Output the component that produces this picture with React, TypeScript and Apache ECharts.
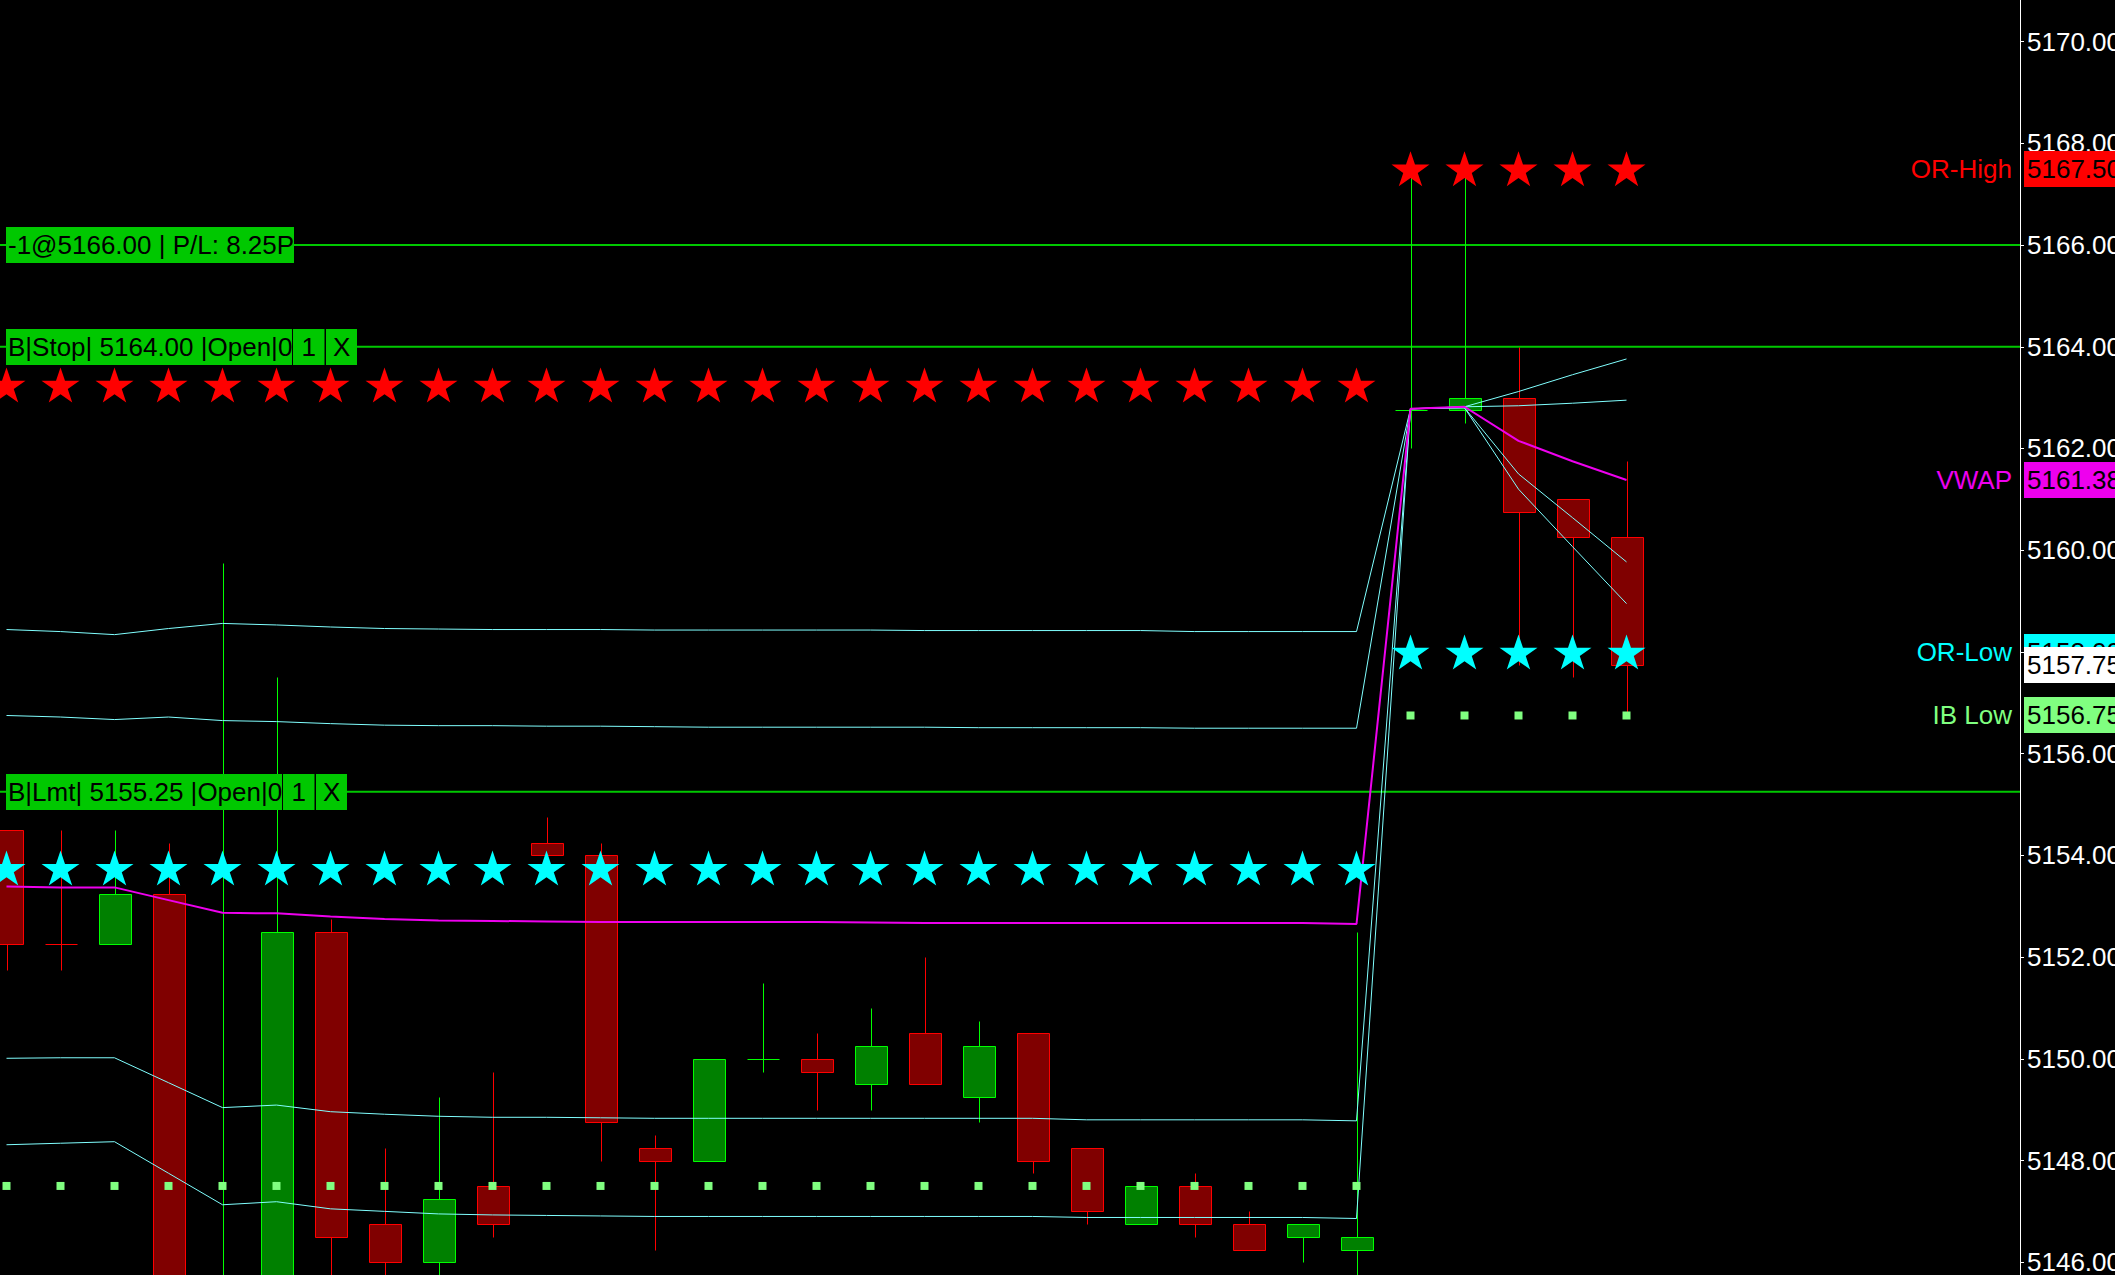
import React, { useEffect, useRef } from "react";
import * as echarts from "echarts";

// ---------- Bars (index 0 = leftmost visible bar) ----------
const opens = [
  5154.5, 5152.25, 5152.25, 5153.25, 5144.5, 5145.0, 5152.5, 5146.75, 5146.0, 5147.5,
  5154.25, 5154.0, 5148.25, 5148.0, 5150.0, 5150.0, 5149.5, 5150.5, 5149.25, 5150.5,
  5148.25, 5146.75, 5147.5, 5146.75, 5146.5, 5146.25, 5162.75, 5162.75, 5163.0, 5161.0,
  5160.25,
];
const closes = [
  5152.25, 5152.25, 5153.25, 5145.25, 5145.5, 5152.5, 5146.5, 5146.0, 5147.25, 5146.75,
  5154.0, 5148.75, 5148.0, 5150.0, 5150.0, 5149.75, 5150.25, 5149.5, 5150.25, 5148.0,
  5147.0, 5147.5, 5146.75, 5146.25, 5146.75, 5146.5, 5162.75, 5163.0, 5160.75, 5160.25,
  5157.75,
];
const lows = [
  5151.75, 5151.75, 5152.25, 5145.0, 5144.0, 5144.75, 5145.5, 5145.5, 5145.5, 5146.5,
  5154.0, 5148.0, 5146.25, 5148.0, 5149.75, 5149.0, 5149.0, 5149.5, 5148.75, 5147.75,
  5146.75, 5146.75, 5146.5, 5146.25, 5146.0, 5145.5, 5162.0, 5162.5, 5157.75, 5157.5,
  5156.75,
];
const highs = [
  5154.5, 5154.5, 5154.5, 5154.25, 5159.75, 5157.5, 5152.75, 5148.25, 5149.25, 5149.75,
  5154.75, 5154.25, 5148.5, 5150.0, 5151.5, 5150.5, 5151.0, 5152.0, 5150.75, 5150.5,
  5148.25, 5147.5, 5147.75, 5147.0, 5146.75, 5152.5, 5167.5, 5167.5, 5164.0, 5161.0,
  5161.75,
];
// doji bars (open == close) that are painted in the rising colour
const dojiRising = [14, 26];

// ---------- VWAP and its bands ----------
const vwap = [
  5153.39, 5153.37, 5153.37, 5153.12, 5152.87, 5152.86, 5152.8, 5152.75, 5152.72, 5152.71,
  5152.7, 5152.69, 5152.69, 5152.69, 5152.69, 5152.69, 5152.68, 5152.67, 5152.67, 5152.67,
  5152.67, 5152.67, 5152.67, 5152.67, 5152.67, 5152.65, 5162.78, 5162.82, 5162.15, 5161.75,
  5161.38,
];
const bandUpper2 = [
  5158.44, 5158.4, 5158.34, 5158.46, 5158.56, 5158.53, 5158.49, 5158.46, 5158.45, 5158.44,
  5158.44, 5158.44, 5158.43, 5158.43, 5158.43, 5158.43, 5158.43, 5158.42, 5158.42, 5158.42,
  5158.42, 5158.42, 5158.4, 5158.4, 5158.4, 5158.4, 5162.78, 5162.82, 5163.12, 5163.45,
  5163.76,
];
const bandUpper1 = [
  5156.75, 5156.72, 5156.67, 5156.72, 5156.65, 5156.63, 5156.59, 5156.56, 5156.55, 5156.55,
  5156.54, 5156.54, 5156.53, 5156.52, 5156.52, 5156.52, 5156.52, 5156.52, 5156.51, 5156.51,
  5156.51, 5156.51, 5156.5, 5156.5, 5156.5, 5156.5, 5162.78, 5162.82, 5162.84, 5162.89,
  5162.95,
];
const bandLower1 = [
  5150.01, 5150.02, 5150.02, 5149.53, 5149.04, 5149.09, 5148.96, 5148.91, 5148.87, 5148.85,
  5148.85, 5148.84, 5148.83, 5148.83, 5148.83, 5148.83, 5148.83, 5148.83, 5148.83, 5148.83,
  5148.8, 5148.8, 5148.8, 5148.8, 5148.8, 5148.78, 5162.78, 5162.8, 5161.5, 5160.64,
  5159.77,
];
const bandLower2 = [
  5148.31, 5148.34, 5148.37, 5147.75, 5147.13, 5147.19, 5147.05, 5147.0, 5146.95, 5146.93,
  5146.92, 5146.91, 5146.9, 5146.9, 5146.9, 5146.9, 5146.9, 5146.9, 5146.9, 5146.9,
  5146.88, 5146.88, 5146.88, 5146.88, 5146.88, 5146.86, 5162.78, 5162.8, 5161.2, 5160.07,
  5158.95,
];

// ---------- Session levels ----------
const sessionFirstBar = [0, 26];
const sessionLastBar = [25, 30];
const orHigh = [5163.25, 5167.5];
const orLow = [5153.75, 5158.0];
const ibLow = [5147.5, 5156.75];

// ---------- Position / working orders ----------
const orderPrices = [5166.0, 5164.0, 5155.25];
const orderTexts = ["-1@5166.00 | P/L: 8.25P", "B|Stop| 5164.00 |Open|0", "B|Lmt| 5155.25 |Open|0"];
const orderQty = ["", "1", "1"];
const orderCancel = ["", "X", "X"];

// ---------- Right-hand price markers ----------
const markerNames = ["OR-High", "VWAP", "OR-Low", "", "IB Low"];
const markerValues = [5167.5, 5161.38, 5158.0, 5157.75, 5156.75];
const markerColors = ["#ff0000", "#ee00ee", "#00ffff", "#ffffff", "#80ff80"];

// ---------- Axis ranges ----------
const xMin = -0.1204;
const xMax = 37.287;
const yMin = 5145.749;
const yMax = 5170.818;

const W = 2115;
const H = 1275;
const FONT = '"Liberation Sans", Arial, sans-serif';
const ORDER_GREEN = "#00c800";
const BAND = "#80ffff";
const STAR =
  "path://M50 0 L61.23 34.55 L97.55 34.55 L68.17 55.9 L79.39 90.45 L50 69.1 L20.61 90.45 L31.83 55.9 L2.45 34.55 L38.77 34.55 Z";

function levelPoints(levels: number[]) {
  const pts: number[][] = [];
  levels.forEach((lvl, s) => {
    for (let i = sessionFirstBar[s]; i <= sessionLastBar[s]; i++) pts.push([i, lvl]);
  });
  return pts;
}

function lineSeries(values: number[], color: string, width: number, z: number) {
  return {
    type: "line",
    data: values.map((v, i) => [i, v]),
    showSymbol: false,
    symbol: "none",
    lineStyle: { color, width, opacity: 1 },
    itemStyle: { color },
    z,
    silent: true,
  };
}

export default function App() {
  const ref = useRef<HTMLDivElement>(null);

  useEffect(() => {
    document.body.style.margin = "0";
    document.body.style.background = "#000";
    const chart = echarts.init(ref.current as HTMLDivElement, null, {
      renderer: "svg",
      width: W,
      height: H,
    });

    const candleData = opens.map((o, i) => [i, o, closes[i], lows[i], highs[i]]);

    const option: any = {
      animation: false,
      backgroundColor: "#000000",
      grid: { left: 0, right: 95, top: 0, bottom: 0, containLabel: false, outerBoundsMode: "none" },
      xAxis: { type: "value", min: xMin, max: xMax, show: false },
      yAxis: {
        type: "value",
        position: "right",
        min: yMin,
        max: yMax,
        splitNumber: 12,
        axisLine: { show: true, onZero: false, lineStyle: { color: "#ffffff", width: 1 } },
        axisTick: { show: true, length: 4, lineStyle: { color: "#ffffff" } },
        splitLine: { show: false },
        axisLabel: {
          color: "#ffffff",
          fontSize: 26,
          fontFamily: FONT,
          margin: 7,
          showMinLabel: false,
          showMaxLabel: false,
          formatter: (v: number) => v.toFixed(2),
        },
      },
      series: [
        ...orderPrices.map((p) => ({
          type: "line",
          data: [
            [xMin, p],
            [xMax, p],
          ],
          showSymbol: false,
          symbol: "none",
          lineStyle: { color: ORDER_GREEN, width: 2 },
          z: 1,
          silent: true,
        })),
        {
          type: "custom",
          z: 2,
          clip: true,
          silent: true,
          encode: { x: 0, y: [1, 2, 3, 4] },
          data: candleData,
          renderItem: (_params: any, api: any) => {
            const i = api.value(0) as number;
            const o = api.value(1) as number;
            const c = api.value(2) as number;
            const l = api.value(3) as number;
            const h = api.value(4) as number;
            const rising = c > o || (c === o && dojiRising.includes(i));
            const edge = rising ? "#00ff00" : "#ff0000";
            const fill = rising ? "#008000" : "#800000";
            const xc = Math.round(api.coord([i, o])[0]);
            const snap = (y: number) => Math.round(y) + 0.5;
            const yO = api.coord([i, o])[1];
            const yC = api.coord([i, c])[1];
            const yL = api.coord([i, l])[1];
            const yH = api.coord([i, h])[1];
            const children: any[] = [
              {
                type: "line",
                shape: { x1: xc + 0.5, y1: snap(yH), x2: xc + 0.5, y2: snap(yL) },
                style: { stroke: edge, lineWidth: 1 },
              },
            ];
            if (o === c) {
              children.push({
                type: "line",
                shape: { x1: xc - 15.5, y1: snap(yO), x2: xc + 16.5, y2: snap(yO) },
                style: { stroke: edge, lineWidth: 1 },
              });
            } else {
              const top = snap(Math.min(yO, yC));
              const bot = snap(Math.max(yO, yC));
              children.push({
                type: "rect",
                shape: { x: xc - 15.5, y: top, width: 32, height: bot - top },
                style: { fill, stroke: edge, lineWidth: 1 },
              });
            }
            return { type: "group", children };
          },
        },
        lineSeries(bandUpper2, BAND, 1, 3),
        lineSeries(bandUpper1, BAND, 1, 3),
        lineSeries(bandLower1, BAND, 1, 3),
        lineSeries(bandLower2, BAND, 1, 3),
        lineSeries(vwap, "#ee00ee", 2, 4),
        {
          type: "scatter",
          data: levelPoints(orHigh),
          symbol: STAR,
          symbolSize: [38, 35],
          itemStyle: { color: "#ff0000", opacity: 1 },
          z: 5,
          silent: true,
        },
        {
          type: "scatter",
          data: levelPoints(orLow),
          symbol: STAR,
          symbolSize: [38, 35],
          itemStyle: { color: "#00ffff", opacity: 1 },
          z: 5,
          silent: true,
        },
        {
          type: "scatter",
          data: levelPoints(ibLow),
          symbol: "rect",
          symbolSize: 8,
          itemStyle: { color: "#80ff80", opacity: 1 },
          z: 5,
          silent: true,
        },
      ],
    };
    chart.setOption(option);

    const yPix = (v: number) => chart.convertToPixel({ yAxisIndex: 0 }, v) as number;
    const txt = (x: number, y: number, text: string, fill: string, align: string) => ({
      type: "text",
      x,
      y,
      z: 100,
      style: {
        text,
        fill,
        font: `26px ${FONT}`,
        fontSize: 26,
        fontFamily: FONT,
        align,
        textAlign: align,
        verticalAlign: "middle",
        textVerticalAlign: "middle",
      },
    });
    const rect = (x: number, y: number, w: number, h: number, fill: string) => ({
      type: "rect",
      z: 100,
      shape: { x, y, width: w, height: h },
      style: { fill },
    });

    const graphics: any[] = [];
    // order / position boxes (layouts of the three boxes)
    const boxWidths = [288, 351, 341];
    const mainWidths = [288, 286, 276];
    orderPrices.forEach((p, k) => {
      const yc = yPix(p);
      const top = Math.round(yc) - 18;
      graphics.push(rect(6, top, boxWidths[k], 36, ORDER_GREEN));
      graphics.push(txt(8, top + 18, orderTexts[k], "#000000", "left"));
      if (orderQty[k]) {
        const s1 = 6 + mainWidths[k];
        const cellW = (boxWidths[k] - mainWidths[k]) / 2;
        graphics.push(rect(s1, top, 1, 36, "#000000"));
        graphics.push(rect(s1 + cellW, top, 1.5, 36, "#000000"));
        graphics.push(txt(s1 + cellW / 2 + 0.5, top + 18, orderQty[k], "#000000", "center"));
        graphics.push(txt(s1 + cellW * 1.5 + 1, top + 18, orderCancel[k], "#000000", "center"));
      }
    });
    // right-hand markers
    markerValues.forEach((v, k) => {
      const yc = yPix(v);
      const top = Math.round(yc) - 18;
      if (markerNames[k]) graphics.push(txt(2012, yc, markerNames[k], markerColors[k], "right"));
      graphics.push(rect(2024, top, 91, 36, markerColors[k]));
      graphics.push(txt(2027, top + 18, v.toFixed(2), "#000000", "left"));
    });
    chart.setOption({ graphic: graphics });

    return () => chart.dispose();
  }, []);

  return <div ref={ref} style={{ width: W, height: H }} />;
}
